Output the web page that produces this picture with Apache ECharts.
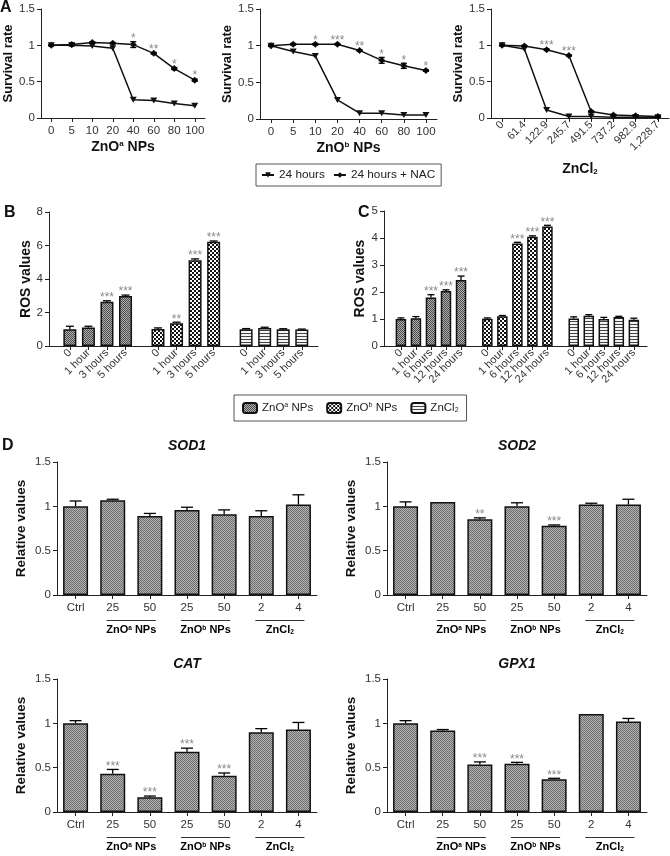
<!DOCTYPE html>
<html><head><meta charset="utf-8">
<script src="https://cdn.jsdelivr.net/npm/echarts@6/dist/echarts.min.js"></script>
<style>html,body{margin:0;padding:0;background:#fff}#c{width:670px;height:856px}</style>
</head><body><div id="c"></div>
<script>
// ---------- DATA ----------
// Panel A (survival rate)
const doseA = ['0','5','10','20','40','60','80','100'];
const doseZnCl2 = ['0','61.4','122.9','245.7','491.5','737.2','982.9','1,228.7'];
const a1_24h = [1.0,1.0,0.99,0.96,0.25,0.24,0.2,0.17];
const a1_nac = [1.0,1.01,1.04,1.03,1.01,0.89,0.68,0.52];
const a1_nacErr = [0.01,0.02,0.01,0.01,0.04,0.01,0.015,0.015];
const a1_stars = ['','','','','*','**','*','*'];
const a2_24h = [1.0,0.92,0.86,0.26,0.08,0.077,0.055,0.055];
const a2_nac = [1.0,1.02,1.02,1.02,0.935,0.80,0.725,0.66];
const a2_nacErr = [0.01,0.01,0.01,0.01,0.01,0.04,0.035,0.01];
const a2_stars = ['','','*','***','**','*','*','*'];
const a3_24h = [1.0,0.95,0.11,0.02,0.02,0.01,0.01,0.01];
const a3_nac = [1.0,0.99,0.94,0.86,0.09,0.04,0.03,0.02];
const a3_nacErr = [0.01,0.01,0.01,0.01,0.01,0.01,0.01,0.01];
const a3_stars = ['','','***','***','','','',''];
// Panel B (ROS)
const timeB = ['0','1 hour','3 hours','5 hours'];
const rosB_a = [1.0,1.1,2.64,2.98];  const rosB_aErr = [0.18,0.08,0.06,0.06]; const rosB_aStars = ['','','***','***'];
const rosB_b = [1.02,1.36,5.12,6.22]; const rosB_bErr = [0.06,0.06,0.08,0.05]; const rosB_bStars = ['','**','***','***'];
const rosB_c = [1.0,1.08,1.0,0.98];  const rosB_cErr = [0.04,0.04,0.03,0.03]; const rosB_cStars = ['','','',''];
// Panel C (ROS)
const timeC = ['0','1 hour','6 hours','12 hours','24 hours'];
const rosC_a = [1.0,1.03,1.8,2.04,2.44];  const rosC_aErr = [0.04,0.06,0.1,0.04,0.15]; const rosC_aStars = ['','','***','***','***'];
const rosC_b = [1.01,1.1,3.8,4.05,4.43];  const rosC_bErr = [0.03,0.03,0.04,0.03,0.04]; const rosC_bStars = ['','','***','***','***'];
const rosC_c = [1.02,1.12,1.0,1.07,0.97]; const rosC_cErr = [0.06,0.04,0.06,0.03,0.06]; const rosC_cStars = ['','','','',''];
// Panel D (relative expression)
const dCats = ['Ctrl','25','50','25','50','2','4'];
const dGroupNames = ['ZnOa NPs','ZnOb NPs','ZnCl2'];
const dGroupSpans = [[1,2],[3,4],[5,6]];
const sod1 = [1.0,1.07,0.89,0.96,0.91,0.89,1.02]; const sod1Err = [0.06,0.01,0.03,0.03,0.05,0.06,0.11]; const sod1Stars = ['','','','','','',''];
const sod2 = [1.0,1.05,0.855,1.0,0.78,1.02,1.02]; const sod2Err = [0.05,0.005,0.015,0.04,0.01,0.015,0.06]; const sod2Stars = ['','','**','','***','',''];
const catv = [1.0,0.43,0.165,0.68,0.41,0.9,0.93]; const catErr = [0.03,0.05,0.015,0.04,0.03,0.04,0.08]; const catStars = ['','***','***','***','***','',''];
const gpx1 = [1.0,0.92,0.535,0.545,0.37,1.105,1.02]; const gpx1Err = [0.03,0.01,0.03,0.015,0.01,0.005,0.035]; const gpx1Stars = ['','','***','***','***','',''];

// ---------- STYLE / HELPERS ----------
const FONT = '"Liberation Sans", Arial, Helvetica, sans-serif';
function pattern(w,h,draw){const c=document.createElement('canvas');c.width=w;c.height=h;const x=c.getContext('2d');draw(x);return {image:c,repeat:'repeat'};}
const patA = pattern(2,2,x=>{x.fillStyle='#b0b0b0';x.fillRect(0,0,2,2);x.fillStyle='#4a4a4a';x.fillRect(0,0,1,1);x.fillRect(1,1,1,1);});
const patB = pattern(4,4,x=>{x.fillStyle='#fff';x.fillRect(0,0,4,4);x.fillStyle='#111';x.fillRect(0,0,2,2);x.fillRect(2,2,2,2);});
const patC = pattern(4,3,x=>{x.fillStyle='#f4f4f4';x.fillRect(0,0,4,3);x.fillStyle='#444';x.fillRect(0,0,4,1);});
const patD = pattern(2,2,x=>{x.fillStyle='#b4b4b4';x.fillRect(0,0,2,2);x.fillStyle='#6c6c6c';x.fillRect(0,0,1,1);x.fillRect(1,1,1,1);});

const richStyles = {
  b:{fontFamily:FONT,fontWeight:'bold',fontSize:14,color:'#111'},
  s:{fontFamily:FONT,fontWeight:'bold',fontSize:8,color:'#111',verticalAlign:'top'},
  u:{fontFamily:FONT,fontWeight:'bold',fontSize:8,color:'#111',verticalAlign:'bottom'},
  gb:{fontFamily:FONT,fontWeight:'bold',fontSize:11,color:'#111'},
  gs:{fontFamily:FONT,fontWeight:'bold',fontSize:6.5,color:'#111',verticalAlign:'top'},
  gu:{fontFamily:FONT,fontWeight:'bold',fontSize:6.5,color:'#111',verticalAlign:'bottom'},
  lb:{fontFamily:FONT,fontSize:11.5,color:'#222'},
  ls:{fontFamily:FONT,fontSize:7,color:'#222',verticalAlign:'top'},
  lu:{fontFamily:FONT,fontSize:7,color:'#222',verticalAlign:'bottom'}
};
function rich(n, p){ // p: prefix for styles ('' big, 'g' group, 'l' legend)
  const B = p ? p+'b' : 'b', S = p ? p+'s' : 's', U = p ? p+'u' : 'u';
  if (n==='ZnOa NPs') return `{${B}|ZnO}{${S}|a}{${B}| NPs}`;
  if (n==='ZnOb NPs') return `{${B}|ZnO}{${S}|b}{${B}| NPs}`;
  if (n==='ZnCl2') return `{${B}|ZnCl}{${U}|2}`;
  return n;
}

const axLine = {show:true, lineStyle:{color:'#222', width:1}};
const axTick = {show:true, length:4, lineStyle:{color:'#222'}};
function yAx(gi, max, interval, name, nameGap, nameSize){
  return {gridIndex:gi, type:'value', min:0, max, interval, name, nameLocation:'middle', nameGap,
    nameTextStyle:{fontFamily:FONT, fontWeight:'bold', fontSize:nameSize, color:'#111'},
    axisLine:axLine, axisTick:axTick, splitLine:{show:false},
    axisLabel:{fontFamily:FONT, fontSize:11.5, color:'#333', margin:6, showMinLabel:true, showMaxLabel:true}};
}
function xCat(gi, cats, extra){
  return Object.assign({gridIndex:gi, type:'category', data:cats, boundaryGap:true,
    axisLine:axLine, axisTick:Object.assign({alignWithLabel:true}, axTick),
    axisLabel:{fontFamily:FONT, fontSize:11.5, color:'#333', interval:0, margin:7, hideOverlap:false}}, extra||{});
}
function errSeries(gi, xs, vals, errs, stars, opt){
  opt = opt || {};
  return {type:'custom', xAxisIndex:gi, yAxisIndex:gi, z:5, silent:true, clip:false,
    data: vals.map((v,i)=>[xs[i], v+(errs?errs[i]:0)]),
    renderItem:(params, api)=>{
      const i = params.dataIndex, e = errs ? errs[i] : 0;
      const pT = api.coord([xs[i], vals[i]+e]);
      const pM = api.coord([xs[i], vals[i]-(opt.both?e:0)]);
      const cw = opt.cap || 4, ch = [];
      if (e > 0.008) {
        ch.push({type:'line', shape:{x1:pT[0],y1:pM[1],x2:pT[0],y2:pT[1]}, style:{stroke:'#000',lineWidth:1.3}});
        ch.push({type:'line', shape:{x1:pT[0]-cw,y1:pT[1],x2:pT[0]+cw,y2:pT[1]}, style:{stroke:'#000',lineWidth:1.3}});
        if (opt.both) ch.push({type:'line', shape:{x1:pT[0]-cw,y1:pM[1],x2:pT[0]+cw,y2:pM[1]}, style:{stroke:'#000',lineWidth:1.3}});
      }
      if (stars && stars[i]) ch.push({type:'text', x:pT[0], y:pT[1]+(opt.starOff||3),
        style:{text:stars[i], fill:'#8a8a8a', fontSize:12, fontFamily:FONT, align:'center', verticalAlign:'bottom'}});
      return {type:'group', children:ch};
    }};
}
const idx = n => Array.from({length:n}, (_,i)=>i);

// ---------- GRIDS ----------
const grids = [
  {left:41, top:9, width:164, height:109},
  {left:260, top:9, width:177, height:110},
  {left:491, top:9, width:178, height:109},
  {left:49, top:212, width:269, height:134},
  {left:384, top:211, width:263, height:135},
  {left:57, top:462, width:260, height:133},
  {left:387, top:462, width:260, height:133},
  {left:57, top:679, width:260, height:133},
  {left:387, top:679, width:260, height:133}
].map(g=>Object.assign({outerBoundsMode:'none', containLabel:false}, g));

// B / C: fine category slots (bars every 4 slots, groups separated by a gap)
function slotLayout(labels, nSlots, first, groupStep){
  const pos = g => labels.map((_,i)=>first + g*groupStep + 4*i);
  const cats = new Array(nSlots).fill('');
  [0,1,2].forEach(g=>pos(g).forEach((p,i)=>{cats[p]=labels[i];}));
  return {pos, cats};
}
const LB = slotLayout(timeB, 58, 4, 19);
const LC = slotLayout(timeC, 70, 4, 23);
function xSlot(gi, L){
  return {gridIndex:gi, type:'category', data:L.cats, boundaryGap:true, axisLine:axLine,
    axisTick:Object.assign({alignWithLabel:true, interval:(i,v)=>v!==''}, axTick),
    axisLabel:{interval:0, rotate:45, fontFamily:FONT, fontSize:11, color:'#333', margin:5, hideOverlap:false}};
}

const xAxes = [
  xCat(0, doseA, {name:rich('ZnOa NPs',''), nameLocation:'middle', nameGap:22, nameTextStyle:{rich:richStyles}}),
  xCat(1, doseA, {name:rich('ZnOb NPs',''), nameLocation:'middle', nameGap:22, nameTextStyle:{rich:richStyles}}),
  xCat(2, doseZnCl2, {name:rich('ZnCl2',''), nameLocation:'middle', nameGap:44, nameTextStyle:{rich:richStyles},
     axisLabel:{fontFamily:FONT, fontSize:11, color:'#333', interval:0, rotate:45, margin:5, hideOverlap:false}}),
  xSlot(3, LB),
  xSlot(4, LC),
  xCat(5, dCats), xCat(6, dCats), xCat(7, dCats), xCat(8, dCats)
];
const yAxes = [
  yAx(0, 1.5, 0.5, 'Survival rate', 25, 13),
  yAx(1, 1.5, 0.5, 'Survival rate', 24, 13),
  yAx(2, 1.5, 0.5, 'Survival rate', 26, 13),
  yAx(3, 8, 2, 'ROS values', 12, 14),
  yAx(4, 5, 1, 'ROS values', 17, 14),
  yAx(5, 1.5, 0.5, 'Relative values', 29, 13.5),
  yAx(6, 1.5, 0.5, 'Relative values', 29, 13.5),
  yAx(7, 1.5, 0.5, 'Relative values', 29, 13.5),
  yAx(8, 1.5, 0.5, 'Relative values', 29, 13.5)
];

const triDown = 'path://M0,0L10,0L5,9Z';
function lineSeries(gi, name, data, isNac){
  return {type:'line', name, xAxisIndex:gi, yAxisIndex:gi, data,
    symbol: isNac ? 'diamond' : triDown, symbolSize: isNac ? 7 : [7,6], showSymbol:true,
    lineStyle:{color:'#111', width:1.5}, itemStyle:{color:'#111'}, z:3};
}
const series = [];
[[a1_24h,a1_nac,a1_nacErr,a1_stars],[a2_24h,a2_nac,a2_nacErr,a2_stars],[a3_24h,a3_nac,a3_nacErr,a3_stars]].forEach((d,gi)=>{
  series.push(lineSeries(gi,'24 hours',d[0],false));
  series.push(lineSeries(gi,'24 hours + NAC',d[1],true));
  series.push(errSeries(gi, idx(8), d[1], d[2], d[3], {both:true, cap:3}));
});
function barSeriesXY(gi, name, xs, vals, pat, bw){
  return {type:'bar', name, xAxisIndex:gi, yAxisIndex:gi, barWidth:bw, barGap:'-100%',
    data: vals.map((v,i)=>[xs[i], v]),
    itemStyle:{color:pat, borderColor:'#111', borderWidth:1.5}, z:2};
}
const pats = [patA, patB, patC];
[[rosB_a,rosB_aErr,rosB_aStars],[rosB_b,rosB_bErr,rosB_bStars],[rosB_c,rosB_cErr,rosB_cStars]].forEach((d,g)=>{
  series.push(barSeriesXY(3, dGroupNames[g], LB.pos(g), d[0], pats[g], 13));
  series.push(errSeries(3, LB.pos(g), d[0], d[1], d[2], {cap:4}));
});
[[rosC_a,rosC_aErr,rosC_aStars],[rosC_b,rosC_bErr,rosC_bStars],[rosC_c,rosC_cErr,rosC_cStars]].forEach((d,g)=>{
  series.push(barSeriesXY(4, dGroupNames[g], LC.pos(g), d[0], pats[g], 10.5));
  series.push(errSeries(4, LC.pos(g), d[0], d[1], d[2], {cap:3.5}));
});
[[sod1,sod1Err,sod1Stars],[sod2,sod2Err,sod2Stars],[catv,catErr,catStars],[gpx1,gpx1Err,gpx1Stars]].forEach((d,k)=>{
  const gi = 5+k;
  series.push({type:'bar', xAxisIndex:gi, yAxisIndex:gi, barWidth:25, data:d[0],
    itemStyle:{color:patD, borderColor:'#111', borderWidth:1.5}, z:2});
  series.push(errSeries(gi, idx(7), d[0], d[1], d[2], {cap:6}));
  // group underlines + group names under the category axis
  series.push({type:'custom', xAxisIndex:gi, yAxisIndex:gi, silent:true, clip:false,
    data: dGroupSpans.map(s=>[s[0],0]),
    renderItem:(params, api)=>{
      const j = params.dataIndex, s = dGroupSpans[j];
      const p1 = api.coord([s[0],0]), p2 = api.coord([s[1],0]);
      const y = p1[1] + 25.5;
      return {type:'group', children:[
        {type:'line', shape:{x1:p1[0]-6, y1:y, x2:p2[0]+6, y2:y}, style:{stroke:'#333', lineWidth:1}},
        {type:'text', x:(p1[0]+p2[0])/2, y:y+4, style:{text:rich(dGroupNames[j],'g'), rich:richStyles, align:'center', verticalAlign:'top'}}
      ]};
    }});
});

const letter = (t,x,y)=>({type:'text', x, y, style:{text:t, font:'bold 16px '+FONT, fill:'#111', align:'left', verticalAlign:'middle'}});
const title = (t,x,y)=>({type:'text', x, y, style:{text:t, font:'italic bold 14px '+FONT, fill:'#111', align:'center', verticalAlign:'middle'}});

const option = {
  animation:false,
  textStyle:{fontFamily:FONT},
  grid:grids, xAxis:xAxes, yAxis:yAxes, series,
  legend:[
    {data:['24 hours','24 hours + NAC'], left:256, top:164, orient:'horizontal', selectedMode:false,
     borderColor:'#555', borderWidth:1, padding:[5,6,5,5], itemGap:8, itemWidth:12, itemHeight:7,
     textStyle:{fontFamily:FONT, fontSize:11.8, color:'#222'}},
    {data:dGroupNames, left:234, top:395, orient:'horizontal', selectedMode:false,
     borderColor:'#555', borderWidth:1, padding:[7,8,7,8], itemGap:13, itemWidth:14, itemHeight:10,
     formatter:n=>rich(n,'l'), textStyle:{fontFamily:FONT, fontSize:11.5, color:'#222', rich:richStyles}}
  ],
  graphic:[
    letter('A',0,7.5), letter('B',4,212.5), letter('C',358,212.5), letter('D',2,446),
    title('SOD1',187,446), title('SOD2',517,446), title('CAT',187,664), title('GPX1',517,664)
  ]
};
const chart = echarts.init(document.getElementById('c'), null, {renderer:'canvas'});
chart.setOption(option);
</script></body></html>
